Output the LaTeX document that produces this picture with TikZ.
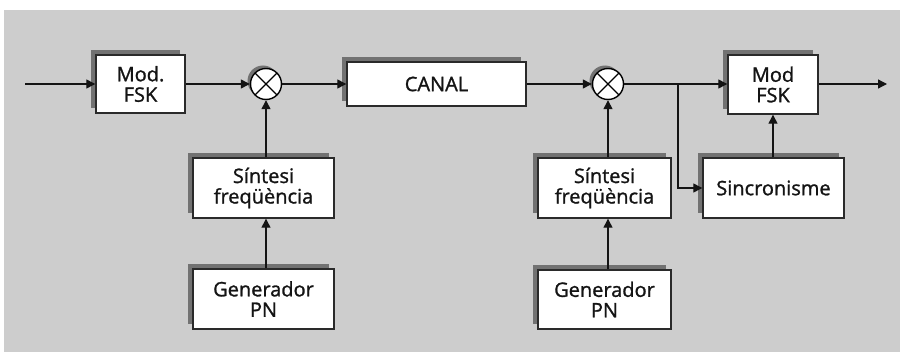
\documentclass[tikz,border=0pt]{standalone}
\usepackage{fontspec}
\setmainfont{Open Sans}
\newfontfamily\lblfont{Open Sans}[FakeBold=1.2]
\usetikzlibrary{arrows.meta,shadows}
\definecolor{bgc}{HTML}{CDCDCD}
\definecolor{shc}{HTML}{727272}
\definecolor{edgec}{HTML}{2A2A2A}
\definecolor{txtc}{HTML}{141414}
\tikzset{
  blk/.style={draw=edgec, line width=1.4pt, fill=white, inner sep=0pt, align=center,
    text=txtc, font=\lblfont\fontsize{20}{20.5}\selectfont,
    drop shadow={shadow xshift=-5pt, shadow yshift=5pt, fill=shc, opacity=1}},
  mixer/.style={circle, draw=black, line width=1.4pt, fill=white, minimum size=31pt, inner sep=0pt,
    drop shadow={shadow xshift=-3pt, shadow yshift=3pt, fill=shc, opacity=1},
    path picture={\draw[line width=1.4pt] (path picture bounding box.north west) -- (path picture bounding box.south east)
      (path picture bounding box.north east) -- (path picture bounding box.south west);}},
  arr/.style={draw=txtc, line width=1.3pt, -{Triangle[length=9pt,width=9pt]}},
  ln/.style={draw=txtc, line width=1.3pt}
}
\begin{document}
\begin{tikzpicture}[x=1pt,y=-1pt]
\useasboundingbox (0,0) rectangle (900,353);
\fill[bgc] (4,10) rectangle (900,352);
% blocks
\node[blk, minimum width=89pt, minimum height=58pt] (mod1) at (140.5,84) {Mod.\\FSK};
\node[mixer] (mix1) at (266,84) {};
\node[blk, minimum width=179pt, minimum height=44pt] (canal) at (436.5,84) {CANAL};
\node[blk, minimum width=141pt, minimum height=60pt] (sint1) at (263.5,188) {Síntesi\\freqüència};
\node[blk, minimum width=141pt, minimum height=60pt] (gen1) at (263.5,299) {Generador\\PN};
\node[mixer] (mix2) at (608,84) {};
\node[blk, minimum width=133pt, minimum height=60pt] (sint2) at (604.5,188) {Síntesi\\freqüència};
\node[blk, minimum width=133pt, minimum height=59pt] (gen2) at (604.5,299.5) {Generador\\PN};
\node[blk, minimum width=90pt, minimum height=59pt] (mod2) at (773,84.5) {Mod\\FSK};
\node[blk, minimum width=141pt, minimum height=60pt] (sinc) at (773.5,188) {Sincronisme};
% free ends
\coordinate (in) at (25,84);
\coordinate (out) at (887,84);
\coordinate (br) at (678,84);
% connectors
\draw[arr] (in) -- (in -| mod1.west);
\draw[arr] (mod1.east |- mix1) -- (mix1.west);
\draw[arr] (mix1.east) -- (canal.west |- mix1);
\draw[arr] (canal.east |- mix2) -- (mix2.west);
\draw[arr] (mix2.east) -- (mod2.west |- mix2);
\draw[arr] (mod2.east |- out) -- (out);
\draw[arr] (sint1.north -| mix1) -- (mix1.south);
\draw[arr] (gen1.north -| mix1) -- (sint1.south -| mix1);
\draw[arr] (sint2.north -| mix2) -- (mix2.south);
\draw[arr] (gen2.north -| mix2) -- (sint2.south -| mix2);
\draw[arr] (br) |- (sinc.west);
\draw[arr] (sinc.north -| mod2) -- (mod2.south);
\end{tikzpicture}
\end{document}
